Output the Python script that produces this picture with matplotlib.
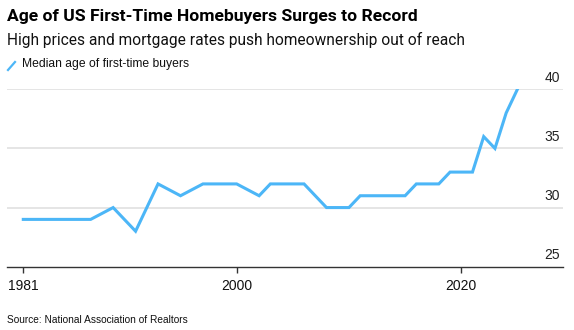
import matplotlib
matplotlib.use("Agg")
import matplotlib.pyplot as plt
from matplotlib.lines import Line2D

plt.rcParams['font.family'] = ['Liberation Sans', 'DejaVu Sans']

# data
years = [1981, 1985, 1987, 1989, 1991, 1993, 1995, 1997, 2000, 2002, 2003,
         2004, 2005, 2006, 2007, 2008, 2009, 2010, 2011, 2012, 2013, 2014,
         2015, 2016, 2017, 2018, 2019, 2020, 2021, 2022, 2023, 2024, 2025]
median_age = [29, 29, 29, 30, 28, 32, 31, 32, 32, 31, 32,
              32, 32, 32, 31, 30, 30, 30, 31, 31, 31, 31,
              31, 32, 32, 32, 33, 33, 33, 36, 35, 38, 40]
x_ticks = [1981, 2000, 2020]
y_ticks = [25, 30, 35, 40]

title = "Age of US First-Time Homebuyers Surges to Record"
subtitle = "High prices and mortgage rates push homeownership out of reach"
legend_label = "Median age of first-time buyers"
source = "Source: National Association of Realtors"

line_color = "#4cb6f7"
W, H = 574, 330

fig = plt.figure(figsize=(W / 100, H / 100), dpi=100)
ax = fig.add_axes([7 / W, 63.3 / H, 556 / W, 177.4 / H])

ax.plot(years, median_age, color=line_color, lw=2.2, solid_joinstyle='miter', zorder=3)

ax.set_xlim(1979.55, 2029.06)
ax.set_ylim(25, 40)

for v in y_ticks[1:]:
    ax.axhline(v, color="#e3e3e3", lw=1.3, zorder=1)
ax.set_yticks([])
for v in y_ticks:
    ax.annotate(str(v), xy=(1, v), xycoords=ax.get_yaxis_transform(),
                xytext=(-2, 3.2), textcoords='offset points',
                ha='right', va='bottom', fontsize=10, color='#222222')

for s in ['top', 'left', 'right']:
    ax.spines[s].set_visible(False)
ax.spines['bottom'].set_color('#333333')
ax.spines['bottom'].set_linewidth(1.0)
ax.set_xticks(x_ticks)
ax.set_xticklabels([str(t) for t in x_ticks])
ax.tick_params(axis='x', length=4, width=1, color='#333333', pad=5,
               labelsize=10, labelcolor='#111111')

fig.text(7 / W, 1 - 20.7 / H, title, fontsize=12.6, fontweight='bold',
         family=['Roboto', 'DejaVu Sans'], va='baseline', ha='left', color='#000000')
fig.text(7 / W, 1 - 45 / H, subtitle, fontsize=11.2, family=['Roboto', 'DejaVu Sans'],
         va='baseline', ha='left', color='#111111')
fig.add_artist(Line2D([8 / W, 15 / W], [1 - 70 / H, 1 - 62 / H], color=line_color, lw=1.6))
fig.text(22 / W, 1 - 66.7 / H, legend_label, fontsize=8.7, va='baseline', ha='left', color='#111111')
fig.text(7 / W, 1 - 323.3 / H, source, fontsize=7.3, va='baseline', ha='left', color='#111111')

fig.savefig("out.png", dpi=100)
